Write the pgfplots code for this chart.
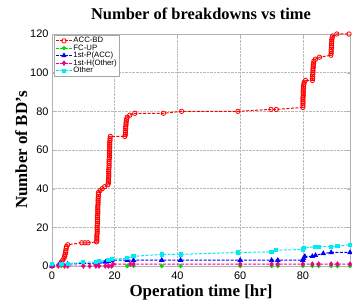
\documentclass[border=0pt]{standalone}
\usepackage{pgfplots}
\pgfplotsset{compat=1.18}
\usepackage{fontspec}
\setmainfont{Liberation Serif}
\setsansfont{Liberation Sans}
\definecolor{cgreen}{RGB}{0,220,0}
\definecolor{ccyan}{RGB}{0,235,245}
\begin{document}
\begin{tikzpicture}
\path[use as bounding box] (-52bp,-38bp) rectangle (300bp,266bp);
\begin{axis}[
  at={(0,0)}, anchor=south west,
  width=298bp, height=232bp, scale only axis,
  xmin=0, xmax=95, ymin=0, ymax=120,
  xtick={0,20,40,60,80}, ytick={0,20,40,60,80,100,120},
  grid=major, grid style={densely dotted, gray!55, line width=0.5pt},
  axis line style={gray!60, line width=0.8pt},
  tick style={gray!60}, tick align=inside, major tick length=3bp,
  /pgf/number format/assume math mode=true,
  ticklabel style={font=\sffamily\fontsize{11}{12}\selectfont},
  xticklabel style={yshift=-2bp},
  title={\bfseries Number of breakdowns vs time},
  title style={font=\fontsize{16.5}{18}\selectfont, yshift=5bp},
  xlabel={\bfseries Operation time [hr]},
  ylabel={\bfseries Number of BD's},
  xlabel style={font=\fontsize{17}{18}\selectfont, yshift=1bp},
  ylabel style={font=\fontsize{17}{18}\selectfont, yshift=-4bp},
  legend style={at={(0.006,0.997)}, anchor=north west, draw=gray!70, fill=white,
    font=\sffamily\fontsize{7.8}{7.8}\selectfont, inner sep=1.5pt, row sep=-1.6pt,
    nodes={inner sep=1pt}, cells={anchor=west}},
  legend image code/.code={\draw[mark repeat=2,mark phase=2] plot coordinates {(0bp,0bp)(8bp,0bp)(16bp,0bp)};},
  every axis plot/.append style={line width=1pt, dashed, dash pattern=on 3pt off 1.5pt},
]
\addplot[red, mark=o, mark size=2.2bp, mark options={solid, fill=white, line width=0.8pt}] coordinates {
(0,0)(2.5,1)(3,2)(3.4,3)(3.8,4)(4,5)(4.2,6)(4.3,7)(4.4,8)(4.5,9)(4.6,10)(5,11)
(9.5,12)(10.5,12)(11.5,12)(14.2,12.5)
(14.3,13)(14.3,14)(14.3,15)(14.3,16)(14.4,17)(14.4,18)(14.4,19)(14.4,20)(14.4,21)(14.5,22)(14.5,23)(14.5,24)(14.5,25)(14.5,26)(14.6,27)(14.6,28)(14.6,29)(14.6,30)(14.6,31)(14.7,32)(14.7,33)(14.7,34)(14.7,35)(14.8,36)(14.8,37)(14.8,38)
(15.3,39)(16,40)(16.8,41)(17.8,42)
(18,43)(18,44)(18,45)(18.1,46)(18.1,47)(18.1,48)(18.1,49)(18.1,50)(18.2,51)(18.2,52)(18.2,53)(18.2,54)(18.2,55)(18.3,56)(18.3,57)(18.3,58)(18.3,59)(18.3,60)(18.4,61)(18.4,62)(18.4,63)(18.4,64)(18.5,65)(18.5,66)(18.6,67)
(23.2,67)(23.4,68)(23.4,69)(23.4,70)(23.5,71)(23.5,72)(23.6,73)(23.6,74)(23.7,75)(23.8,76)(24,77)(24.8,78)(26.4,79)
(35.5,79)(41.3,80)(59.3,80)(69.8,81)(71.5,81)
(80,82)(80,83)(80,84)(80,85)(80,86)(80,87)(80.1,88)(80.1,89)(80.1,90)(80.1,91)(80.2,92)(80.2,93)(80.3,94)(80.4,95)(80.8,96)(83,96)
(83.1,97)(83.1,98)(83.1,99)(83.2,100)(83.2,101)(83.2,102)(83.3,103)(83.3,104)(83.4,105)(83.5,106)(84,107)(85.3,108)(88.9,109)
(89,110)(89,111)(89,112)(89.1,113)(89.1,114)(89.1,115)(89.2,116)(89.2,117)(89.3,118)(89.5,119)(90.8,120)(94.7,120)
};
\addlegendentry{ACC-BD}
\addplot[cgreen, mark=*, mark size=1.6bp, mark options={solid}] coordinates {
(0,0)(3,0)(5,0)(10,0)(14,0)(15,0)(18,0)(19,0)(24,0)(26,0)(35,0)(41,0)(60,0)(70,0)(72,0)(80,0)(83,0)(85,0)(89,0)(91,0)(95,0)
};
\addlegendentry{FC-UP}
\addplot[blue, mark=triangle*, mark size=2.2bp, mark options={solid}] coordinates {
(0,0)(2.5,1)(3,1)(5,1)(14,1.5)(15,2)(17,2)(18,2.5)(19,3)(24,3)(26,3)(35,3)(41,3)(60,3)(70,3)(72,3)(80,3)(80.2,4)(80.6,5)(83,5)(84,5.5)(86.5,6.5)(89,7)(95,7)
};
\addlegendentry{1st-P(ACC)}
\addplot[magenta, mark=diamond*, mark size=2bp, mark options={solid}] coordinates {
(0,0)(2,0)(4,0)(5,0)(10,0)(12,0)(14,0)(15,0)(17,0)(18,0)(19,0)(19.5,1)(25,1)(26,1)(60,1)(70,1)(72,1)(80,1)(83,1)(85,1)(89,1)(91,1)(95,1)
};
\addlegendentry{1st-H(Other)}
\addplot[ccyan, mark=square*, mark size=1.6bp, mark options={solid}] coordinates {
(0,1)(3,1)(5,1)(10,2)(14,2)(15,2.5)(18,3)(19,3.5)(24,4)(26,5)(35,6)(41,6)(59.3,7)(70,7.3)(71.5,8.2)(80,8.5)(80.3,9.2)(83.8,10)(85,10)(89,10)(91,10.2)(95,11)
};
\addlegendentry{Other}
\end{axis}
\end{tikzpicture}
\end{document}
